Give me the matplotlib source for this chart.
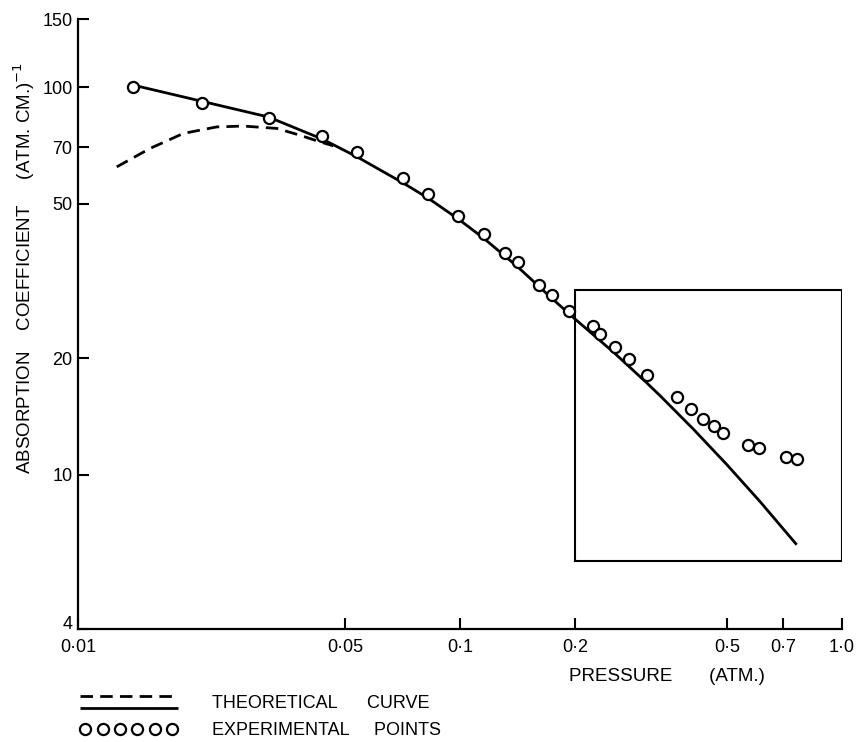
import matplotlib
matplotlib.use("Agg")
import matplotlib.pyplot as plt
from matplotlib.lines import Line2D
from matplotlib.patches import Rectangle
from matplotlib.legend_handler import HandlerBase, HandlerLine2D

plt.rcParams['font.family'] = ['Liberation Sans', 'DejaVu Sans']

# ---------------- data ----------------
exp_pressure = [0.01396, 0.02108, 0.03168, 0.04362, 0.05384, 0.0708, 0.0826,
                0.0990, 0.1156, 0.1314, 0.1416, 0.1613, 0.1741, 0.1926,
                0.2226, 0.2326, 0.2541, 0.2775, 0.3093, 0.3692, 0.4017,
                0.4335, 0.4623, 0.4890, 0.5684, 0.6074, 0.7122, 0.7610]
exp_coeff = [100.2, 91.3, 83.2, 74.8, 67.9, 58.2, 52.9,
             46.6, 41.7, 37.4, 35.5, 30.8, 29.1, 26.5,
             24.2, 23.1, 21.4, 19.9, 18.1, 15.9, 14.8,
             13.9, 13.35, 12.85, 11.95, 11.7, 11.1, 10.98]

solid_pressure = [0.0140, 0.0209, 0.0315, 0.0436, 0.0538, 0.0708, 0.0826,
                  0.0990, 0.1156, 0.1416, 0.1741, 0.2013, 0.2541, 0.3093,
                  0.3340, 0.4081, 0.4992, 0.6100, 0.7610]
solid_coeff = [101.2, 92.2, 83.8, 73.5, 66.1, 56.7, 51.7,
               45.7, 40.7, 34.4, 28.5, 25.1, 20.58, 17.21,
               16.0, 13.12, 10.63, 8.53, 6.6]

dashed_pressure = [0.01263, 0.01543, 0.01887, 0.02307, 0.02709, 0.03313,
                   0.0381, 0.0430, 0.0466]
dashed_coeff = [62.3, 69.5, 76.0, 79.0, 79.4, 78.3, 75.2, 72.3, 70.6]

box_pressure = [0.2, 1.0]
box_coeff = [6.0, 30.0]

x_ticks = [0.01, 0.05, 0.1, 0.2, 0.5, 0.7, 1.0]
x_tick_labels = ['0·01', '0·05', '0·1', '0·2', '0·5', '0·7', '1·0']
y_ticks = [4, 10, 20, 50, 70, 100, 150]
y_tick_labels = ['4', '10', '20', '50', '70', '100', '150']

x_label = 'PRESSURE       (ATM.)'
y_label = 'ABSORPTION    COEFFICIENT     (ATM. CM.)$^{-1}$'
legend_labels = ['THEORETICAL      CURVE', 'EXPERIMENTAL     POINTS']

# ---------------- figure ----------------
fig = plt.figure(figsize=(8.58, 7.42), dpi=100)
ax = fig.add_axes([78 / 858, 113 / 742, 764 / 858, 610 / 742])
ax.set_xscale('log')
ax.set_yscale('log')
ax.set_xlim(x_ticks[0], x_ticks[-1])
ax.set_ylim(y_ticks[0], y_ticks[-1])

for s in ('top', 'right'):
    ax.spines[s].set_visible(False)
for s in ('left', 'bottom'):
    ax.spines[s].set_linewidth(1.6)

dashed_line, = ax.plot(dashed_pressure, dashed_coeff, color='black', lw=2.0,
                       linestyle=(0, (4.5, 2.6)))
solid_line, = ax.plot(solid_pressure, solid_coeff, color='black', lw=2.0,
                      solid_capstyle='butt')
pts, = ax.plot(exp_pressure, exp_coeff, linestyle='none', marker='o',
               markersize=8, markerfacecolor='white', markeredgecolor='black',
               markeredgewidth=1.6)

ax.add_patch(Rectangle((box_pressure[0], box_coeff[0]),
                       box_pressure[1] - box_pressure[0],
                       box_coeff[1] - box_coeff[0],
                       fill=False, edgecolor='black', lw=1.5))

tick_family = ['Liberation Sans Narrow', 'Liberation Sans', 'DejaVu Sans']
ax.minorticks_off()
ax.set_xticks(x_ticks)
ax.set_xticklabels(x_tick_labels, fontsize=13, fontfamily=tick_family)
ax.set_yticks(y_ticks)
ax.set_yticklabels(y_tick_labels, fontsize=13, fontfamily=tick_family)
ax.minorticks_off()
ax.tick_params(axis='both', which='major', direction='in', length=8, width=1.5)
ax.tick_params(axis='x', pad=7.5)
ax.tick_params(axis='y', pad=4)
ax.get_yticklabels()[0].set_verticalalignment('baseline')

ax.set_xlabel(x_label, fontsize=13.5)
ax.xaxis.set_label_coords(0.771, -0.064)
ax.xaxis.label.set_va('top')
ax.set_ylabel(y_label, fontsize=13.5)
ax.yaxis.set_label_coords(-0.054, 0.592)


class HandlerDoubleLine(HandlerBase):
    def create_artists(self, legend, orig_handle, xdescent, ydescent,
                       width, height, fontsize, trans):
        top, bottom = orig_handle
        yc = height / 2 - ydescent
        off = 0.47 * height
        arts = []
        for src, y in ((top, yc + off), (bottom, yc - off)):
            ln = Line2D([-xdescent, width - xdescent], [y, y])
            ln.update_from(src)
            ln.set_clip_box(None)
            ln.set_clip_on(False)
            ln.set_transform(trans)
            arts.append(ln)
        return arts


leg = fig.legend([(dashed_line, solid_line), pts], legend_labels,
                 handler_map={tuple: HandlerDoubleLine(),
                              Line2D: HandlerLine2D(numpoints=6)},
                 loc='upper left', bbox_to_anchor=(80 / 858, 1 - 695 / 742),
                 frameon=False, fontsize=13, handlelength=5.4,
                 handletextpad=1.9, labelspacing=0.55, borderpad=0,
                 borderaxespad=0)
for h in leg.legend_handles:
    if isinstance(h, Line2D):
        h.set_markersize(8)

fig.savefig('out.png', dpi=100)
